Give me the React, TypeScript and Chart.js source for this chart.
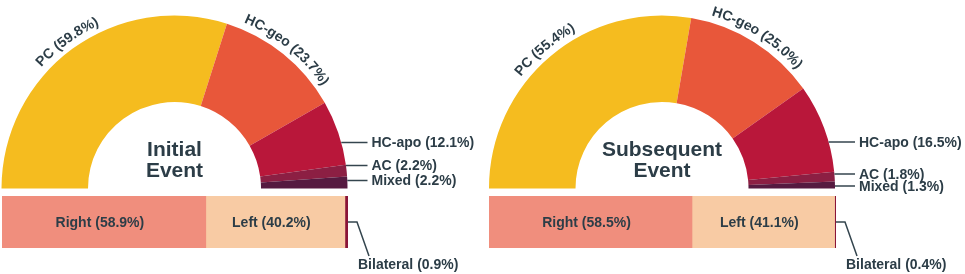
import React, { useEffect, useRef } from 'react';
import { Chart, registerables } from 'chart.js';
Chart.register(...registerables);

// ---- data ----
const categories = ['PC', 'HC-geo', 'HC-apo', 'AC', 'Mixed'];
const initialValues = [59.8, 23.7, 12.1, 2.2, 2.2];
const subsequentValues = [55.4, 25.0, 16.5, 1.8, 1.3];
const sideLabels = ['Right', 'Left', 'Bilateral'];
const initialSide = [58.9, 40.2, 0.9];
const subsequentSide = [58.5, 41.1, 0.4];
const initialTitle = ['Initial', 'Event'];
const subsequentTitle = ['Subsequent', 'Event'];

// ---- styles ----
const typeColors = ['#F5BC1F', '#E8573A', '#B9173A', '#8C1F43', '#561A40'];
const sideColors = ['#F08E7D', '#F8CBA4', '#8A1538'];
const TEXT = '#2C3D47';
const LINE = '#34454E';
const FONT = '"Liberation Sans", Arial, Helvetica, sans-serif';

const fmt = (c: string, v: number) => `${c} (${v.toFixed(1)}%)`;

interface Panel {
  left: number;
  width: number;
  values: number[];
  side: number[];
  title: string[];
  donutPad: { left: number; right: number; top: number; bottom: number };
  barPad: { left: number; right: number; top: number; bottom: number };
  leaderDy: number[];
}

const panels: Panel[] = [
  {
    left: 0,
    width: 480,
    values: initialValues,
    side: initialSide,
    title: initialTitle,
    donutPad: { left: 1.5, right: 132.5, top: 15.5, bottom: 85.5 },
    barPad: { left: 2, right: 132, top: 6, bottom: 26 },
    leaderDy: [-46, -23, -8],
  },
  {
    left: 480,
    width: 485,
    values: subsequentValues,
    side: subsequentSide,
    title: subsequentTitle,
    donutPad: { left: 9, right: 130, top: 15.5, bottom: 85.5 },
    barPad: { left: 9, right: 129, top: 6, bottom: 26 },
    leaderDy: [-46.5, -14.5, -2.5],
  },
];

function drawCurved(ctx: CanvasRenderingContext2D, text: string, cx: number, cy: number, r: number, mid: number) {
  const total = ctx.measureText(text).width;
  let a = mid - total / r / 2;
  for (const ch of text) {
    const w = ctx.measureText(ch).width;
    const ang = a + w / 2 / r;
    ctx.save();
    ctx.translate(cx + r * Math.cos(ang), cy + r * Math.sin(ang));
    ctx.rotate(ang + Math.PI / 2);
    ctx.textAlign = 'center';
    ctx.textBaseline = 'alphabetic';
    ctx.fillText(ch, 0, 0);
    ctx.restore();
    a += w / r;
  }
}

function donutPlugin(p: Panel) {
  return {
    id: 'donutLabels',
    afterDatasetsDraw(chart: any) {
      const ctx: CanvasRenderingContext2D = chart.ctx;
      const meta = chart.getDatasetMeta(0);
      const arcs = meta.data;
      if (!arcs.length) return;
      const cx = arcs[0].x;
      const cy = arcs[0].y;
      const R = arcs[0].outerRadius;
      ctx.save();
      ctx.fillStyle = TEXT;
      ctx.font = `bold 14px ${FONT}`;
      // curved labels for the two biggest
      for (let i = 0; i < 2; i++) {
        const a = arcs[i];
        const mid = (a.startAngle + a.endAngle) / 2;
        drawCurved(ctx, fmt(categories[i], p.values[i]), cx, cy, R + 7, mid);
      }
      // leader labels
      ctx.strokeStyle = LINE;
      ctx.lineWidth = 1.5;
      for (let i = 2; i < 5; i++) {
        const dy = p.leaderDy[i - 2];
        const y = cy + dy;
        const xs = cx + Math.sqrt(Math.max(R * R - dy * dy, 0));
        ctx.beginPath();
        ctx.moveTo(xs, y);
        ctx.lineTo(cx + R + 20, y);
        ctx.stroke();
        ctx.textAlign = 'left';
        ctx.textBaseline = 'middle';
        ctx.fillText(fmt(categories[i], p.values[i]), cx + R + 24, y + 1);
      }
      // centre title
      ctx.font = `bold 21px ${FONT}`;
      ctx.textAlign = 'center';
      ctx.textBaseline = 'alphabetic';
      ctx.fillText(p.title[0], cx, cy - 32.5);
      ctx.fillText(p.title[1], cx, cy - 11.5);
      ctx.restore();
    },
  };
}

function barPlugin(p: Panel) {
  return {
    id: 'barLabels',
    afterDatasetsDraw(chart: any) {
      const ctx: CanvasRenderingContext2D = chart.ctx;
      ctx.save();
      ctx.fillStyle = TEXT;
      ctx.font = `bold 14px ${FONT}`;
      ctx.textAlign = 'center';
      ctx.textBaseline = 'middle';
      for (let i = 0; i < 2; i++) {
        const el = chart.getDatasetMeta(i).data[0];
        const x0 = el.base;
        const x1 = el.x;
        ctx.fillText(fmt(sideLabels[i], p.side[i]), (x0 + x1) / 2 - 4, el.y + 1);
      }
      const b = chart.getDatasetMeta(2).data[0];
      const xe = b.x;
      const ym = b.y;
      ctx.strokeStyle = LINE;
      ctx.lineWidth = 1.5;
      ctx.beginPath();
      ctx.moveTo(xe, ym);
      ctx.lineTo(xe + 9, ym);
      ctx.lineTo(xe + 21, ym + 34);
      ctx.stroke();
      ctx.textAlign = 'left';
      ctx.fillText(fmt(sideLabels[2], p.side[2]), xe + 10, ym + 43);
      ctx.restore();
    },
  };
}

export default function App() {
  const refs = [useRef<HTMLCanvasElement>(null), useRef<HTMLCanvasElement>(null), useRef<HTMLCanvasElement>(null), useRef<HTMLCanvasElement>(null)];

  useEffect(() => {
    const charts: Chart[] = [];
    panels.forEach((p, k) => {
      const dc = refs[k * 2].current!;
      charts.push(
        new Chart(dc, {
          type: 'doughnut',
          data: {
            labels: categories,
            datasets: [{ data: p.values, backgroundColor: typeColors, borderWidth: 0 }],
          },
          options: {
            responsive: false,
            animation: false,
            rotation: -90,
            circumference: 180,
            cutout: '50%',
            layout: { padding: p.donutPad },
            plugins: { legend: { display: false }, tooltip: { enabled: false } },
          },
          plugins: [donutPlugin(p)],
        } as any)
      );
      const bc = refs[k * 2 + 1].current!;
      charts.push(
        new Chart(bc, {
          type: 'bar',
          data: {
            labels: ['Side'],
            datasets: sideLabels.map((s, i) => ({
              label: s,
              data: [p.side[i]],
              backgroundColor: sideColors[i],
              borderWidth: 0,
              barPercentage: 1,
              categoryPercentage: 1,
            })),
          },
          options: {
            indexAxis: 'y',
            responsive: false,
            animation: false,
            layout: { padding: p.barPad },
            scales: {
              x: { stacked: true, min: 0, max: 100, display: false },
              y: { stacked: true, display: false },
            },
            plugins: { legend: { display: false }, tooltip: { enabled: false } },
          },
          plugins: [barPlugin(p)],
        } as any)
      );
    });
    return () => charts.forEach((c) => c.destroy());
  }, []);

  return (
    <div style={{ position: 'fixed', left: 0, top: 0, width: 965, height: 274, background: '#fff', overflow: 'hidden' }}>
      {panels.map((p, k) => (
        <React.Fragment key={k}>
          <canvas
            ref={refs[k * 2]}
            width={p.width}
            height={274}
            style={{ position: 'absolute', left: p.left, top: 0, width: p.width, height: 274 }}
          />
          <canvas
            ref={refs[k * 2 + 1]}
            width={p.width}
            height={84}
            style={{ position: 'absolute', left: p.left, top: 190, width: p.width, height: 84 }}
          />
        </React.Fragment>
      ))}
    </div>
  );
}
